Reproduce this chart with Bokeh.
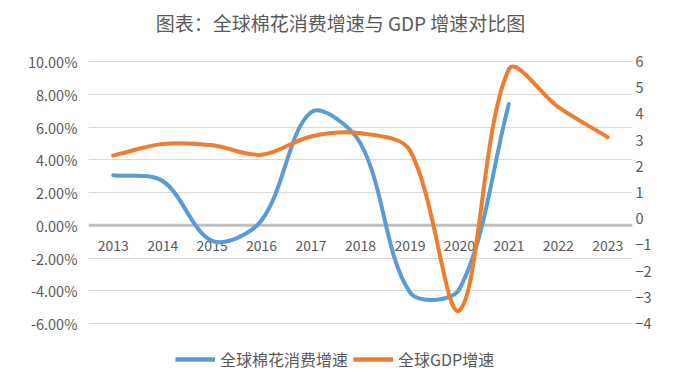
import math
from bokeh.plotting import figure
from bokeh.models import (Range1d, LinearAxis, FixedTicker, PrintfTickFormatter,
                          Legend, LegendItem, ColumnDataSource, Span, Label)
from bokeh.core.properties import value
from bokeh.embed import file_html
from bokeh.resources import INLINE

title_text = "图表：全球棉花消费增速与 GDP 增速对比图"
years = ["2013", "2014", "2015", "2016", "2017", "2018", "2019", "2020", "2021", "2022", "2023"]
cotton_growth = [3.05, 2.7, -0.95, 0.3, 6.9, 5.0, -4.1, -3.9, 7.4]          # %, left axis (2013-2021)
gdp_growth = [2.41, 2.85, 2.8, 2.44, 3.14, 3.26, 2.6, -3.5, 5.7, 4.26, 3.11]  # right axis
left_ticks = [-6, -4, -2, 0, 2, 4, 6, 8, 10]
right_ticks = [-4, -3, -2, -1, 0, 1, 2, 3, 4, 5, 6]

BLUE = "#5B9BD5"
ORANGE = "#ED7D31"
TXT = "#595959"
FONT = "Noto Sans CJK SC"

PLOT_W, PLOT_H = 544, 262      # visible plotting area
TITLE_PX = 61                  # room above the plotting area kept for the title
LEGEND_PX = 52                 # room below the plotting area kept for the legend
B_LEFT, B_RIGHT, B_BOTTOM = 88, 58, 3

l_per_px = (left_ticks[-1] - left_ticks[0]) / PLOT_H
r_per_px = (right_ticks[-1] - right_ticks[0]) / PLOT_H


def smooth_segments(ys, kx, ky):
    """Excel-like smoothing: Bezier control points along the neighbour chord,
    scaled by the adjacent segment lengths in screen space."""
    n = len(ys)
    P = [(i * kx, y * ky) for i, y in enumerate(ys)]

    def dist(a, b):
        return math.hypot(b[0] - a[0], b[1] - a[1])

    out_cp, in_cp = [], []
    for i in range(n):
        a = P[max(i - 1, 0)]
        b = P[min(i + 1, n - 1)]
        dp = dist(a, P[i])
        dn = dist(P[i], b)
        tot = dp + dn if dp + dn > 0 else 1.0
        tx, ty = (b[0] - a[0]) / tot, (b[1] - a[1]) / tot
        out_cp.append((P[i][0] + tx * dn / 3.0, P[i][1] + ty * dn / 3.0))
        in_cp.append((P[i][0] - tx * dp / 3.0, P[i][1] - ty * dp / 3.0))
    d = dict(x0=[], y0=[], x1=[], y1=[], cx0=[], cy0=[], cx1=[], cy1=[])
    for i in range(n - 1):
        d["x0"].append(i); d["y0"].append(ys[i])
        d["x1"].append(i + 1); d["y1"].append(ys[i + 1])
        d["cx0"].append(out_cp[i][0] / kx); d["cy0"].append(out_cp[i][1] / ky)
        d["cx1"].append(in_cp[i + 1][0] / kx); d["cy1"].append(in_cp[i + 1][1] / ky)
    return ColumnDataSource(d)


FRAME_H = TITLE_PX + PLOT_H + LEGEND_PX
p = figure(width=B_LEFT + PLOT_W + B_RIGHT, height=FRAME_H + B_BOTTOM,
           output_backend="svg", toolbar_location=None,
           x_range=Range1d(-0.5, len(years) - 0.5),
           y_range=Range1d(left_ticks[0] - LEGEND_PX * l_per_px,
                           left_ticks[-1] + TITLE_PX * l_per_px),
           min_border_left=B_LEFT, min_border_right=B_RIGHT,
           min_border_top=0, min_border_bottom=B_BOTTOM)
p.outline_line_color = None
p.background_fill_color = "white"
p.border_fill_color = "white"
p.xaxis.visible = False
p.xgrid.visible = False

p.extra_y_ranges = {"gdp": Range1d(right_ticks[0] - LEGEND_PX * r_per_px,
                                   right_ticks[-1] + TITLE_PX * r_per_px)}

# title (screen units relative to the frame's bottom-left corner)
p.add_layout(Label(x=252, y=FRAME_H - 22, x_units="screen", y_units="screen",
                   text=title_text, text_align="center", text_baseline="middle",
                   text_font=FONT, text_font_size="19px", text_color=TXT))

# left axis
yax = p.yaxis[0]
yax.ticker = FixedTicker(ticks=left_ticks)
yax.formatter = PrintfTickFormatter(format="%.2f%%")
yax.axis_line_color = None
yax.major_tick_line_color = None
yax.minor_tick_line_color = None
yax.major_label_text_font = FONT
yax.major_label_text_font_size = "14.5px"
yax.major_label_text_color = TXT
yax.major_label_standoff = 5

# right axis
rax = LinearAxis(y_range_name="gdp", ticker=FixedTicker(ticks=right_ticks))
rax.axis_line_color = None
rax.major_tick_line_color = None
rax.minor_tick_line_color = None
rax.major_label_text_font = FONT
rax.major_label_text_font_size = "14.5px"
rax.major_label_text_color = TXT
rax.major_label_standoff = -3
p.add_layout(rax, "right")

p.ygrid.ticker = FixedTicker(ticks=left_ticks)
p.ygrid.grid_line_color = "#D9D9D9"
p.ygrid.grid_line_width = 1

# category axis crossing at zero
p.add_layout(Span(location=0, dimension="width", line_color="#BFBFBF", line_width=3,
                  level="underlay"))
x_idx = list(range(len(years)))
p.text(x=x_idx, y=[0] * len(years), text=years, y_offset=20,
       text_align="center", text_baseline="middle",
       text_font=value(FONT), text_font_size="14px", text_color=TXT)

kx = PLOT_W / len(years)
src_c = smooth_segments(cotton_growth, kx, 1.0 / l_per_px)
src_g = smooth_segments(gdp_growth, kx, 1.0 / r_per_px)
p.bezier(x0="x0", y0="y0", x1="x1", y1="y1", cx0="cx0", cy0="cy0", cx1="cx1", cy1="cy1",
         source=src_c, line_color=BLUE, line_width=4, line_cap="round")
p.bezier(x0="x0", y0="y0", x1="x1", y1="y1", cx0="cx0", cy0="cy0", cx1="cx1", cy1="cy1",
         source=src_g, line_color=ORANGE, line_width=4, line_cap="round", y_range_name="gdp")

# renderers used only for the legend swatches (not drawn on the plot)
lc = p.line(x=x_idx[:len(cotton_growth)], y=cotton_growth, line_color=BLUE, line_width=4.5)
lg = p.line(x=x_idx, y=gdp_growth, line_color=ORANGE, line_width=4.5, y_range_name="gdp")
lc.visible = False
lg.visible = False
legend = Legend(items=[LegendItem(label="全球棉花消费增速", renderers=[lc]),
                       LegendItem(label="全球GDP增速", renderers=[lg])],
                orientation="horizontal", location=(87, 4), click_policy="none",
                glyph_width=40, glyph_height=20, label_standoff=5, spacing=5,
                padding=0, margin=0, border_line_color=None, background_fill_alpha=0,
                label_text_font=FONT, label_text_font_size="16px", label_text_color=TXT)
p.add_layout(legend, "center")

open("out.html", "w").write(file_html(p, INLINE))
